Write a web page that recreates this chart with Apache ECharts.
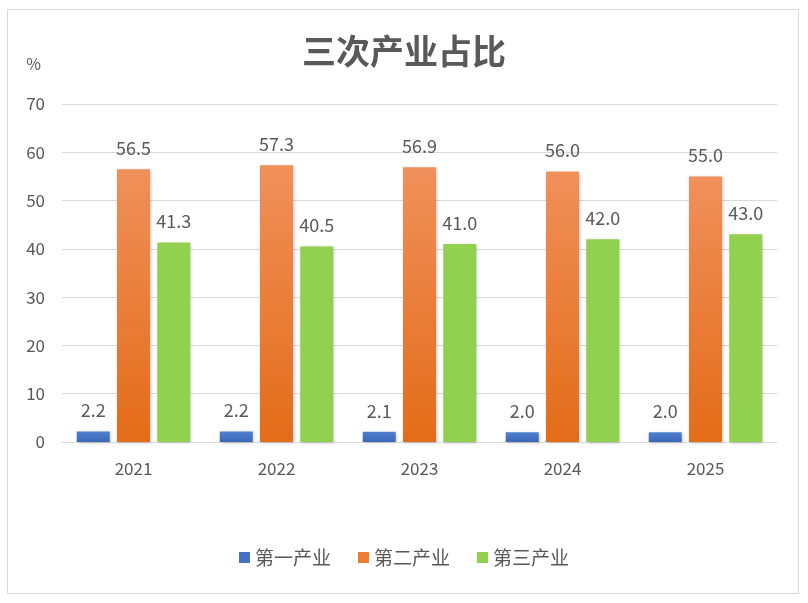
<!DOCTYPE html>
<html>
<head>
<meta charset="utf-8">
<script src="https://cdn.jsdelivr.net/npm/echarts@6/dist/echarts.min.js"></script>
<style>
  html, body { margin: 0; padding: 0; background: #fff; }
  #frame { position: absolute; left: 7px; top: 9px; width: 792px; height: 585px; border: 1px solid #d9d9d9; box-sizing: border-box; }
  #chart { width: 808px; height: 603px; }
</style>
</head>
<body>
<div id="frame"></div>
<div id="chart"></div>
<script>
// 데이터
const years = ['2021', '2022', '2023', '2024', '2025'];
const primary = [2.2, 2.2, 2.1, 2.0, 2.0];
const secondary = [56.5, 57.3, 56.9, 56.0, 55.0];
const tertiary = [41.3, 40.5, 41.0, 42.0, 43.0];
const seriesNames = ['第一产业', '第二产业', '第三产业'];

const FONT = '"Noto Sans CJK SC", "Noto Sans", sans-serif';

// 위→아래 그라디언트
function grad(top, bottom) {
    return new echarts.graphic.LinearGradient(0, 0, 0, 1, [
        { offset: 0, color: top },
        { offset: 1, color: bottom }
    ]);
}

function makeSeries(name, data, top, bottom) {
    return {
        name: name,
        type: 'bar',
        data: data,
        barWidth: 33,
        barGap: '22%',
        itemStyle: {
            color: grad(top, bottom),
            shadowBlur: 3,
            shadowOffsetX: 1,
            shadowOffsetY: 1,
            shadowColor: 'rgba(0,0,0,0.22)'
        },
        label: {
            show: true,
            position: 'top',
            distance: 12,
            formatter: (p) => p.value.toFixed(1),
            fontSize: 18,
            color: '#595959',
            fontFamily: FONT
        }
    };
}

const chart = echarts.init(document.getElementById('chart'));

chart.setOption({
    animation: false,
    title: {
        text: '三次产业占比',
        left: 'center',
        top: 29,
        textStyle: { fontSize: 34, fontWeight: 'bold', color: '#595959', fontFamily: FONT }
    },
    legend: {
        bottom: 31,
        left: 'center',
        itemWidth: 11,
        itemHeight: 11,
        itemGap: 27,
        icon: 'rect',
        textStyle: { fontSize: 19, color: '#595959', fontFamily: FONT },
        data: [
            { name: seriesNames[0], itemStyle: { color: '#4472c4' } },
            { name: seriesNames[1], itemStyle: { color: '#ed7d31' } },
            { name: seriesNames[2], itemStyle: { color: '#92d050' } }
        ]
    },
    grid: {
        left: 62,
        right: 31,
        top: 104,
        bottom: 161,
        containLabel: false
    },
    xAxis: {
        type: 'category',
        data: years,
        axisTick: { show: false },
        axisLine: { lineStyle: { color: '#d9d9d9' } },
        axisLabel: { fontSize: 17, color: '#595959', margin: 18, fontFamily: FONT }
    },
    yAxis: {
        type: 'value',
        min: 0,
        max: 70,
        interval: 10,
        name: '%',
        nameLocation: 'end',
        nameGap: 32,
        nameTextStyle: { fontSize: 16, color: '#595959', align: 'right', padding: [0, 21, 0, 0], fontFamily: FONT },
        axisLine: { show: false },
        axisTick: { show: false },
        splitLine: { lineStyle: { color: '#d9d9d9' } },
        axisLabel: { fontSize: 17, color: '#595959', margin: 17, fontFamily: FONT }
    },
    series: [
        makeSeries(seriesNames[0], primary, '#5080d0', '#3b67b8'),
        makeSeries(seriesNames[1], secondary, '#f0905a', '#e36c18'),
        makeSeries(seriesNames[2], tertiary, '#92d050', '#92d050')
    ]
});
</script>
</body>
</html>
